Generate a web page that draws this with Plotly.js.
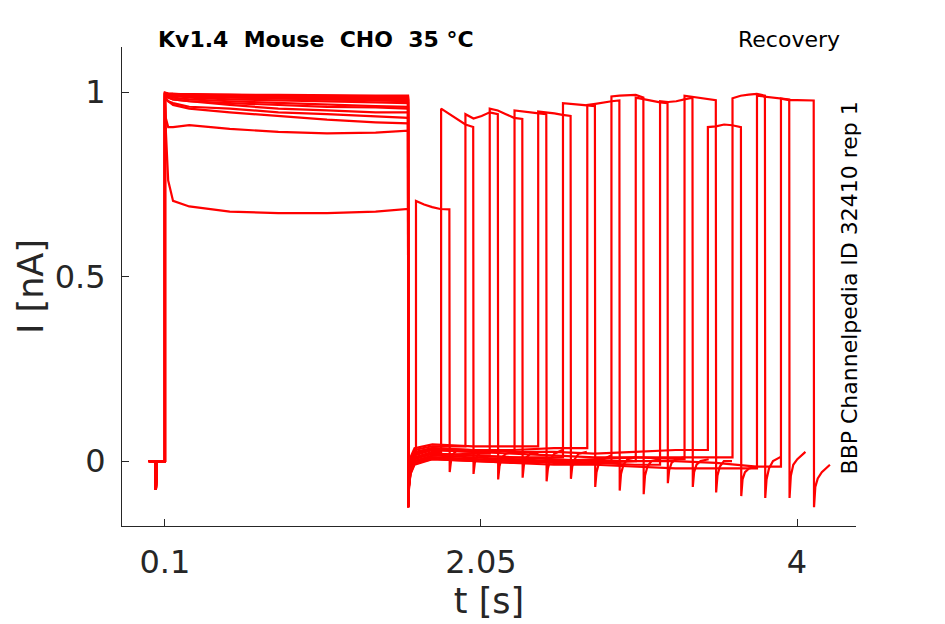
<!DOCTYPE html>
<html>
<head>
<meta charset="utf-8">
<script src="https://cdn.plot.ly/plotly-3.0.1.min.js"></script>
<style>
  html, body {margin: 0; padding: 0; background: #fff;}
  #chart {width: 945px; height: 624px;}
</style>
</head>
<body>
<div id="chart"></div>
<script>
/////Data (16 sweeps)/////
// pre-pulse baseline, shared by all sweeps
const preT = [0, 0.04, 0.044, 0.046, 0.05, 0.1];
const preI = [0.0, 0.0, -0.078, -0.01, 0.0, 0.0];

// P1 (0.1 - 1.6 s)
const p1T = [0.1, 0.105, 0.12, 0.15, 0.25, 0.5, 0.8, 1.1, 1.4, 1.6];
const p1I = [
  [1.0, 0.90, 0.76, 0.705, 0.69, 0.676, 0.672, 0.672, 0.676, 0.683],
  [0.99, 0.985, 0.975, 0.965, 0.955, 0.945, 0.935, 0.925, 0.918, 0.915],
  [0.985, 0.98, 0.975, 0.97, 0.96, 0.955, 0.945, 0.94, 0.935, 0.93],
  [0.995, 0.99, 0.985, 0.98, 0.975, 0.965, 0.955, 0.95, 0.945, 0.945],
  [0.99, 0.99, 0.985, 0.98, 0.975, 0.97, 0.965, 0.96, 0.958, 0.955],
  [0.995, 0.99, 0.99, 0.985, 0.98, 0.975, 0.97, 0.965, 0.962, 0.96],
  [0.995, 0.995, 0.99, 0.99, 0.985, 0.98, 0.978, 0.975, 0.972, 0.97],
  [0.995, 0.995, 0.99, 0.99, 0.988, 0.985, 0.983, 0.98, 0.978, 0.975],
  [0.998, 0.998, 0.995, 0.995, 0.993, 0.99, 0.99, 0.988, 0.987, 0.985],
  [0.995, 0.995, 0.993, 0.99, 0.99, 0.988, 0.985, 0.982, 0.98, 0.978],
  [0.995, 0.995, 0.993, 0.99, 0.99, 0.988, 0.987, 0.985, 0.983, 0.982],
  [0.998, 0.997, 0.995, 0.995, 0.993, 0.992, 0.99, 0.99, 0.988, 0.987],
  [0.98, 0.93, 0.905, 0.905, 0.91, 0.9, 0.892, 0.888, 0.89, 0.895],
  [0.998, 0.998, 0.996, 0.995, 0.995, 0.993, 0.992, 0.99, 0.99, 0.99],
  [0.995, 0.995, 0.993, 0.99, 0.99, 0.987, 0.985, 0.983, 0.98, 0.98],
  [0.995, 0.995, 0.993, 0.99, 0.988, 0.985, 0.983, 0.98, 0.978, 0.977]
];

// recovery gap after P1, each row runs up to that sweep's P2 onset
const gapT = [1.601, 1.606, 1.615, 1.64, 1.75, 2.0, 2.25, 2.5, 2.75, 3.0, 3.25, 3.5, 3.75];
const gapI = [
  [-0.125, -0.05, -0.015, 0.02],
  [-0.12, -0.06, -0.02, 0.01, 0.025],
  [-0.12, -0.04, 0.0, 0.03, 0.04],
  [-0.125, -0.07, -0.03, 0.0, 0.015, 0.02],
  [-0.12, -0.05, -0.01, 0.02, 0.035, 0.03, 0.03],
  [-0.12, -0.04, 0.01, 0.035, 0.045, 0.04, 0.04],
  [-0.125, -0.06, -0.025, 0.005, 0.02, 0.015, 0.01, 0.01],
  [-0.12, -0.05, -0.015, 0.015, 0.03, 0.025, 0.03, 0.035],
  [-0.125, -0.07, -0.035, -0.01, 0.005, 0.0, -0.005, 0.0, -0.005],
  [-0.12, -0.055, -0.02, 0.01, 0.02, 0.015, 0.01, 0.005, 0.0, 0.0],
  [-0.125, -0.065, -0.03, 0.0, 0.015, 0.01, 0.005, 0.0, -0.005, -0.01],
  [-0.12, -0.05, -0.01, 0.02, 0.03, 0.025, 0.02, 0.015, 0.01, 0.01, 0.005],
  [-0.12, -0.045, -0.005, 0.025, 0.035, 0.03, 0.025, 0.025, 0.02, 0.025, 0.03],
  [-0.125, -0.07, -0.035, -0.005, 0.01, 0.005, 0.0, 0.0, 0.005, 0.01, 0.01, 0.01],
  [-0.125, -0.065, -0.03, -0.005, 0.005, 0.0, -0.005, -0.01, -0.01, -0.015, -0.02, -0.02, -0.02],
  [-0.125, -0.06, -0.025, 0.0, 0.01, 0.005, 0.0, -0.005, -0.005, 0.0, 0.0, -0.005, -0.015]
];

// P2 test pulses
const p2On = [1.649, 1.804, 1.954, 2.104, 2.257, 2.403, 2.556, 2.706, 2.855, 3.005, 3.155, 3.306, 3.450, 3.602, 3.753, 3.901];
const p2Off = [1.855, 2.002, 2.154, 2.305, 2.453, 2.603, 2.753, 2.904, 3.052, 3.201, 3.355, 3.499, 3.654, 3.802, 3.952, 4.103];
const p2Dt = [0, 0.05, 0.1, 0.15];   // last sample sits on p2Off
const p2I = [
  [0.705, 0.695, 0.688, 0.683, 0.682],
  [0.955, 0.94, 0.925, 0.912, 0.905],
  [0.94, 0.928, 0.935, 0.945, 0.94],
  [0.955, 0.95, 0.94, 0.93, 0.927],
  [0.95, 0.948, 0.945, 0.942, 0.94],
  [0.947, 0.945, 0.942, 0.938, 0.935],
  [0.97, 0.968, 0.965, 0.962, 0.962],
  [0.965, 0.968, 0.972, 0.975, 0.977],
  [0.988, 0.99, 0.99, 0.992, 0.985],
  [0.985, 0.98, 0.975, 0.972, 0.97],
  [0.975, 0.973, 0.975, 0.98, 0.985],
  [0.99, 0.987, 0.983, 0.98, 0.978],
  [0.905, 0.907, 0.912, 0.91, 0.905],
  [0.983, 0.99, 0.993, 0.995, 0.99],
  [0.99, 0.987, 0.985, 0.982, 0.98],
  [0.982, 0.978, 0.978, 0.977, 0.977]
];

// tail after P2
const tailDt = [0.002, 0.01, 0.025, 0.05, 0.1];
const tailI = [
  [-0.03, 0.0, 0.02, 0.03, 0.03],
  [-0.035, -0.005, 0.015, 0.025, 0.03],
  [-0.05, -0.015, 0.01, 0.02, 0.025],
  [-0.045, -0.01, 0.01, 0.02, 0.02],
  [-0.055, -0.02, 0.005, 0.02, 0.03],
  [-0.048, -0.015, 0.005, 0.02, 0.025],
  [-0.07, -0.03, -0.005, 0.005, 0.015],
  [-0.08, -0.035, -0.01, 0.005, 0.01],
  [-0.09, -0.04, -0.015, 0.0, 0.005],
  [-0.06, -0.025, -0.005, 0.005, 0.01],
  [-0.07, -0.03, -0.01, 0.0, 0.005],
  [-0.085, -0.04, -0.015, 0.0, 0.0],
  [-0.095, -0.05, -0.03, -0.02, -0.015],
  [-0.1, -0.05, -0.02, 0.0, 0.012],
  [-0.1, -0.04, -0.01, 0.005, 0.025],
  [-0.125, -0.07, -0.047, -0.03, -0.01]
];

const xTicks = [0.1, 2.05, 4];
const xTickText = ['0.1', '2.05', '4'];
const yTicks = [0, 0.5, 1];
const yTickText = ['0', '0.5', '1'];

/////Build sweeps/////
function makeSweep(k) {
  let x = [...preT];
  let y = [...preI];
  x.push(...p1T);
  y.push(...p1I[k]);
  let g = gapI[k];
  for (let i = 0; i < g.length; i++) {
    x.push(gapT[i]);
    y.push(g[i]);
  }
  // holding level up to the onset, then the step
  x.push(p2On[k]);
  y.push(g[g.length - 1]);
  for (let i = 0; i < p2Dt.length; i++) {
    x.push(p2On[k] + p2Dt[i]);
    y.push(p2I[k][i]);
  }
  x.push(p2Off[k]);
  y.push(p2I[k][4]);
  for (let i = 0; i < tailDt.length; i++) {
    x.push(p2Off[k] + tailDt[i]);
    y.push(tailI[k][i]);
  }
  return {x: x, y: y};
}

let traces = [];
for (let k = 0; k < p2On.length; k++) {
  let s = makeSweep(k);
  traces.push({
    x: s.x,
    y: s.y,
    type: 'scatter',
    mode: 'lines',
    line: {color: '#ff0000', width: 2.2},
    hoverinfo: 'skip',
    showlegend: false
  });
}

const AXCOL = '#262626';
const FONT = 'DejaVu Sans, sans-serif';
const layout = {
  width: 945,
  height: 624,
  margin: {l: 122, r: 89, t: 47, b: 98},
  paper_bgcolor: '#ffffff',
  plot_bgcolor: '#ffffff',
  showlegend: false,
  font: {family: FONT, color: AXCOL},
  xaxis: {
    range: [-0.165, 4.364],
    tickvals: xTicks,
    ticktext: xTickText,
    ticks: 'inside',
    ticklen: 7,
    tickcolor: AXCOL,
    tickwidth: 1,
    ticklabelstandoff: 8,
    showline: true,
    linecolor: AXCOL,
    linewidth: 1,
    showgrid: false,
    zeroline: false,
    tickfont: {family: FONT, size: 32, color: AXCOL},
    title: {text: 't [s]', font: {family: FONT, size: 35, color: AXCOL}, standoff: 8}
  },
  yaxis: {
    range: [-0.176, 1.122],
    tickvals: yTicks,
    ticktext: yTickText,
    ticks: 'inside',
    ticklen: 7,
    tickcolor: AXCOL,
    tickwidth: 1,
    ticklabelstandoff: 9,
    showline: true,
    linecolor: AXCOL,
    linewidth: 1,
    showgrid: false,
    zeroline: false,
    tickfont: {family: FONT, size: 32, color: AXCOL},
    title: {text: 'I [nA]', font: {family: FONT, size: 35, color: AXCOL}, standoff: 0}
  },
  annotations: [
    {
      text: '<b>Kv1.4\u00a0\u00a0Mouse\u00a0\u00a0CHO\u00a0\u00a035 °C</b>',
      xref: 'paper', yref: 'paper', x: 0.046, y: 1.0157,
      xanchor: 'left', yanchor: 'middle', showarrow: false,
      font: {family: FONT, size: 22, color: '#000000'}
    },
    {
      text: 'Recovery',
      xref: 'paper', yref: 'paper', x: 0.981, y: 1.0157,
      xanchor: 'right', yanchor: 'middle', showarrow: false,
      font: {family: FONT, size: 22, color: '#000000'}
    },
    {
      text: 'BBP Channelpedia ID 32410 rep 1',
      xref: 'paper', yref: 'paper', x: 0.9905, y: 0.496,
      xanchor: 'center', yanchor: 'middle', textangle: -90, showarrow: false,
      font: {family: FONT, size: 22, color: '#000000'}
    }
  ]
};

Plotly.newPlot('chart', traces, layout, {displayModeBar: false, staticPlot: true});
</script>
</body>
</html>
